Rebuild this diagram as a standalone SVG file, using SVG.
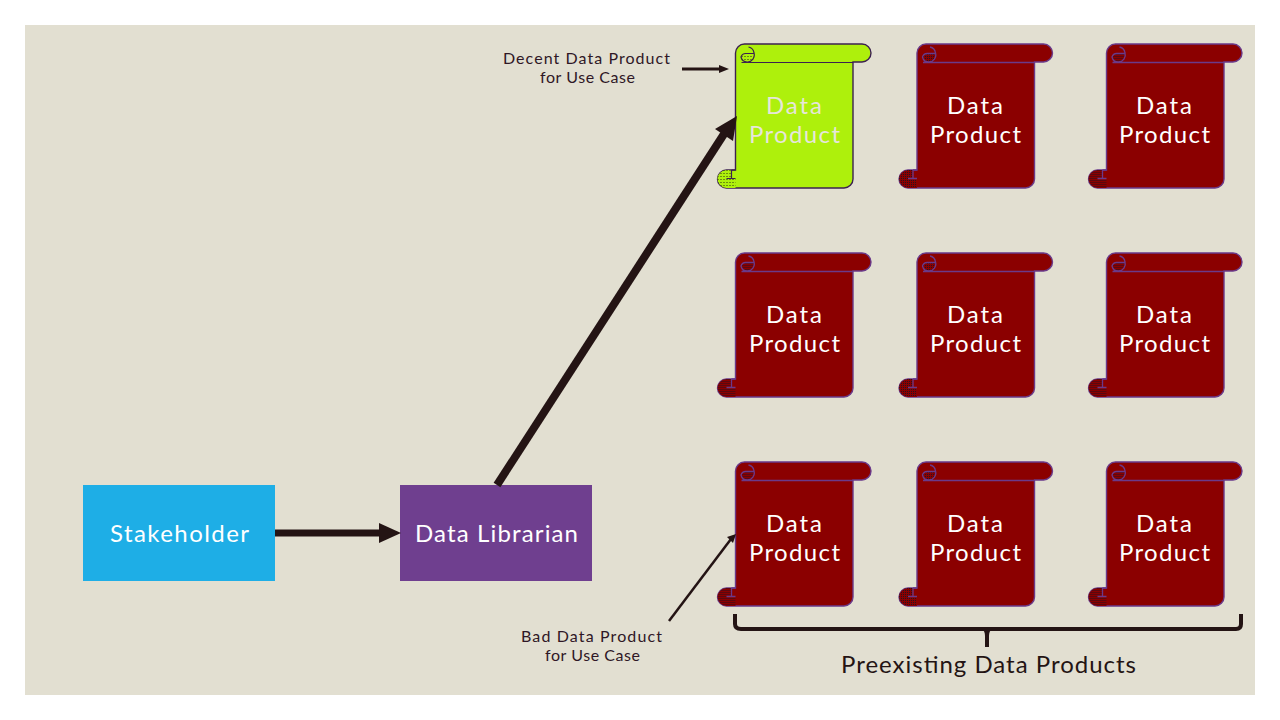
<svg xmlns="http://www.w3.org/2000/svg" width="1280" height="720" viewBox="0 0 1280 720">
<style>
text{font-family:"Lato","Open Sans","Liberation Sans",sans-serif;font-weight:400}
.w{fill:#fff;font-size:24px}
.g{fill:#e6e6da;font-size:24px}
.d{fill:#2f1726;font-size:16px}
.l{fill:#241414;font-size:24px}
.redBody{fill:#8b0000;stroke:#6a3a8a;stroke-width:1.4}
.redLn{fill:none;stroke:#6a3a8a;stroke-width:1.3}
.redDots{fill:url(#dotsR)}
.grnBody{fill:#aef00c;stroke:#3c2150;stroke-width:1.4}
.grnLn{fill:none;stroke:#3c2150;stroke-width:1.2}
.grnDots{fill:url(#dotsG)}
.conn{fill:none;stroke:#241414}
.head{fill:#241414}
</style>
<defs>
<pattern id="dotsR" width="2" height="2" patternUnits="userSpaceOnUse"><rect width="2" height="2" fill="#8b0000"/><rect width="1" height="1" fill="#2a1020"/></pattern>
<pattern id="dotsG" width="3" height="3" patternUnits="userSpaceOnUse"><rect width="3" height="3" fill="#aef00c"/><rect width="1" height="1" fill="#2a3010"/></pattern>
<path id="outline" d="M9,0H126.500A9,9 0 0 1 126.500,18H117.500V135A9,9 0 0 1 108.500,144H-9A9,9 0 0 1 -9,126H0V9A9,9 0 0 1 9,0Z"/>
<path id="curlFill" d="M5.500,12A6,6 0 0 0 11,18A7,7 0 0 0 18,10H10A4.500,4.500 0 0 0 5.500,12ZM-9,126A9,9 0 0 0 -9,144H0V135H-4V126Z"/>
<path id="curlLine" d="M6,18.500H117.500M18,9.500H10.500A5,5 0 0 0 5.500,13A6.500,6.500 0 0 0 12,18A7,7 0 0 0 18.500,9A7,7 0 0 0 13,3M-4,126V134.500H-9M-9,134.500H0M-4,126H0"/>
<g id="scrollR"><use href="#outline" class="redBody"/><use href="#curlFill" class="redDots"/><use href="#curlLine" class="redLn"/></g>
<g id="scrollG"><use href="#outline" class="grnBody"/><use href="#curlFill" class="grnDots"/><use href="#curlLine" class="grnLn"/></g>
</defs>
<rect width="1280" height="720" fill="#fff"/>
<rect x="25" y="25" width="1230" height="670" fill="#e2dfd1"/>
<g id="stakeholder"><rect x="83" y="485" width="192" height="96" fill="#1eaee6"/><text class="w" x="110" y="542" textLength="139">Stakeholder</text></g>
<g id="librarian"><rect x="400" y="485" width="192" height="96" fill="#6f3f8f"/><text class="w" x="415" y="542" textLength="163">Data Librarian</text></g>
<g id="product-1-1"><use href="#scrollG" x="735.500" y="44"/><text class="g" x="766" y="114" textLength="56">Data</text><text class="g" x="749" y="143" textLength="91">Product</text></g>
<g id="product-1-2"><use href="#scrollR" x="917" y="44"/><text class="w" x="947" y="114" textLength="56">Data</text><text class="w" x="930" y="143" textLength="91">Product</text></g>
<g id="product-1-3"><use href="#scrollR" x="1106.500" y="44"/><text class="w" x="1136" y="114" textLength="56">Data</text><text class="w" x="1119" y="143" textLength="91">Product</text></g>
<g id="product-2-1"><use href="#scrollR" x="735.500" y="253"/><text class="w" x="766" y="323" textLength="56">Data</text><text class="w" x="749" y="352" textLength="91">Product</text></g>
<g id="product-2-2"><use href="#scrollR" x="917" y="253"/><text class="w" x="947" y="323" textLength="56">Data</text><text class="w" x="930" y="352" textLength="91">Product</text></g>
<g id="product-2-3"><use href="#scrollR" x="1106.500" y="253"/><text class="w" x="1136" y="323" textLength="56">Data</text><text class="w" x="1119" y="352" textLength="91">Product</text></g>
<g id="product-3-1"><use href="#scrollR" x="735.500" y="462"/><text class="w" x="766" y="532" textLength="56">Data</text><text class="w" x="749" y="561" textLength="91">Product</text></g>
<g id="product-3-2"><use href="#scrollR" x="917" y="462"/><text class="w" x="947" y="532" textLength="56">Data</text><text class="w" x="930" y="561" textLength="91">Product</text></g>
<g id="product-3-3"><use href="#scrollR" x="1106.500" y="462"/><text class="w" x="1136" y="532" textLength="56">Data</text><text class="w" x="1119" y="561" textLength="91">Product</text></g>
<g id="connectors">
<path class="conn" stroke-width="7" d="M275,533H380"/><path class="head" d="M379,523L401,533L379,543Z"/>
<path class="conn" stroke-width="8" d="M497,485L724,134"/><path class="head" d="M737,116L715,129L733,141Z"/>
<path class="conn" stroke-width="3" d="M682,69H720"/><path class="head" d="M729,69L719,65V73Z"/>
<path class="conn" stroke-width="2.500" d="M669,621L731,539"/><path class="head" d="M736,534L727,537L733,543Z"/>
<path class="conn" stroke-width="4" d="M735,614V624Q735,629 741,629H1236Q1241,629 1241,624V614M987,629V647"/>
<path class="head" d="M982,629Q985,631 985,636H989Q989,631 992,629Z"/>
</g>
<g id="labels">
<text class="d" x="503" y="64" textLength="167">Decent Data Product</text>
<text class="d" x="540" y="83" textLength="95">for Use Case</text>
<text class="d" x="521" y="642" textLength="141">Bad Data Product</text>
<text class="d" x="545" y="661" textLength="95">for Use Case</text>
<text class="l" x="841" y="673" textLength="295">Preexisting Data Products</text>
</g>
</svg>
